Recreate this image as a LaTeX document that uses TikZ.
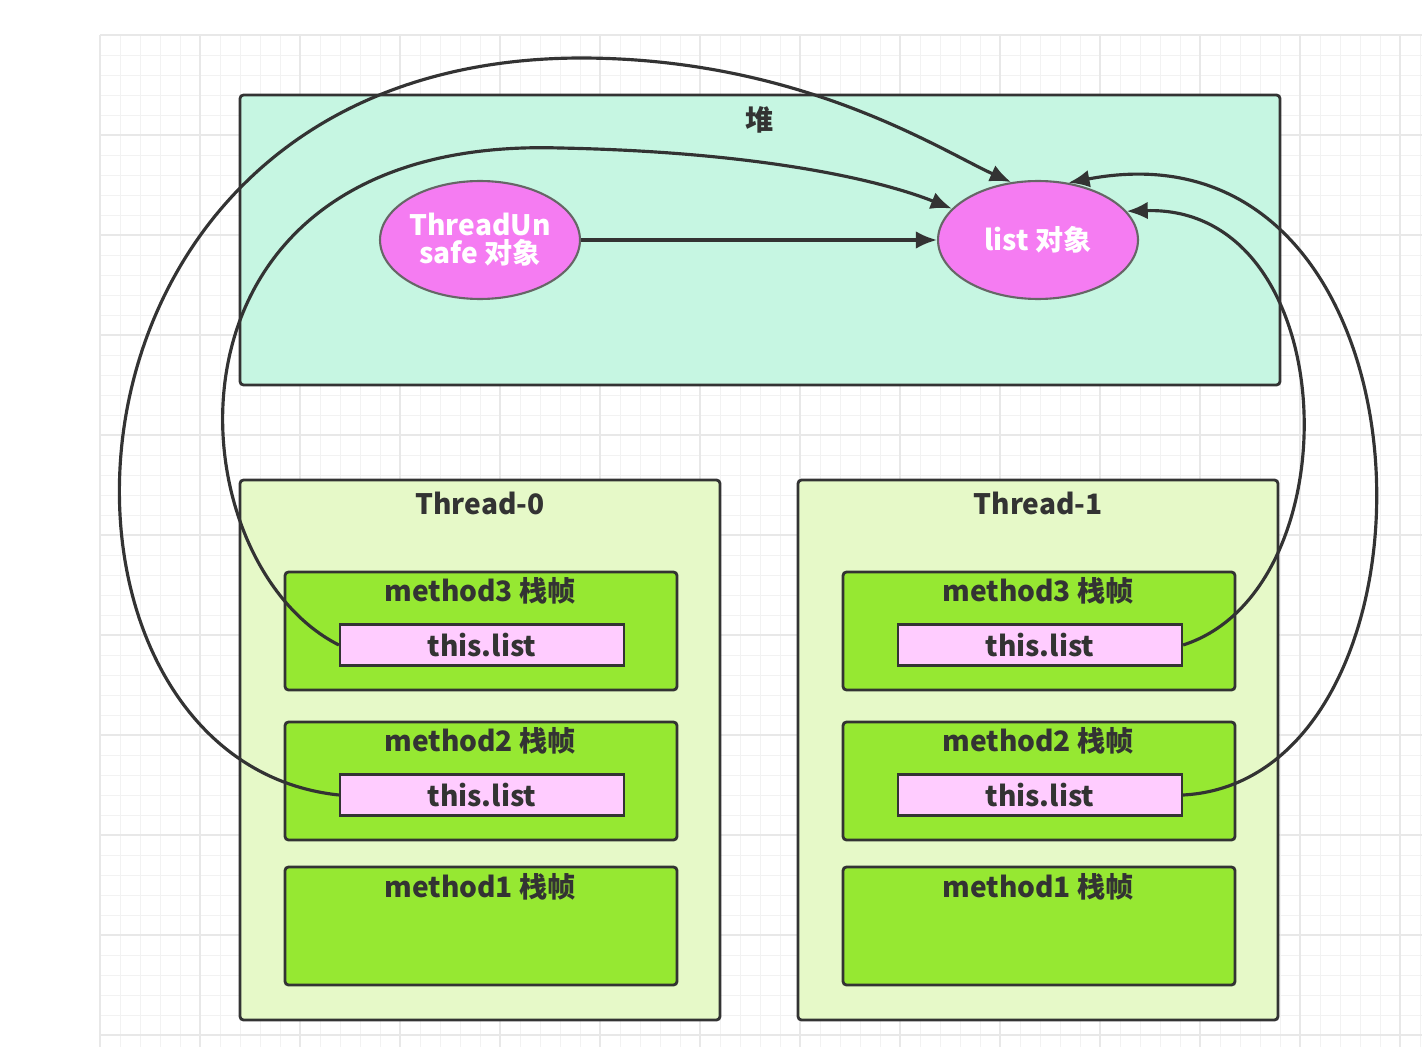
\documentclass[tikz,border=0pt]{standalone}
\usepackage{fontspec}
\setmainfont{Noto Sans CJK SC}
\usetikzlibrary{shapes.geometric,arrows.meta}
\definecolor{heapc}{HTML}{C6F6E2}
\definecolor{threadc}{HTML}{E6F9C8}
\definecolor{framec}{HTML}{96E832}
\definecolor{refc}{HTML}{FFCCFF}
\definecolor{objc}{HTML}{F57CF2}
\definecolor{inkc}{HTML}{333333}
\begin{document}
\begin{tikzpicture}[x=0.02cm,y=-0.02cm,
	font=\bfseries\fontsize{16}{19}\selectfont,text=inkc,
	box/.style={draw=inkc,line width=1.6pt,rounded corners=2pt},
	heap/.style={box,fill=heapc},
	thread/.style={box,fill=threadc},
	frame/.style={box,fill=framec},
	ref/.style={draw=inkc,line width=1.3pt,fill=refc,minimum width=5.68cm,minimum height=0.82cm,inner sep=0pt},
	obj/.style={ellipse,draw=black!60,line width=1.2pt,fill=objc,text=white,minimum width=4cm,minimum height=2.36cm,inner sep=0pt,align=center},
	link/.style={line width=1.8pt,draw=inkc,-{Latex[length=12pt,width=10pt]}}]

  \useasboundingbox (0,0) rectangle (1422,1047);
  % background grid
  \foreach \x in {100,120,...,1420} \draw[black!5,line width=0.5pt] (\x,35) -- (\x,1047);
  \foreach \y in {35,55,...,1045} \draw[black!5,line width=0.5pt] (100,\y) -- (1422,\y);
  \foreach \x in {100,200,...,1400} \draw[black!9,line width=0.7pt] (\x,35) -- (\x,1047);
  \foreach \y in {35,135,...,1035} \draw[black!9,line width=0.7pt] (100,\y) -- (1422,\y);

  % heap
  \draw[heap] (240,95) rectangle (1280,385);
  \node (heapname) at (760,120) {堆};
  \node[obj] (unsafe) at (480,240) {ThreadUn\\[-3pt]safe 对象};
  \node[obj] (list) at (1038,240) {list 对象};

  % threads
  \foreach \t/\dx in {0/0,1/558}{
	  \draw[thread] (240+\dx,480) rectangle (720+\dx,1020);
	  \node (t\t name) at (480+\dx,503) {Thread-\t};
	  \draw[frame] (285+\dx,572) rectangle (677+\dx,690);
	  \node at (480+\dx,591) {method3 栈帧};
	  \node[ref] (t\t m3) at (482+\dx,645) {this.list};
	  \draw[frame] (285+\dx,722) rectangle (677+\dx,840);
	  \node at (480+\dx,741) {method2 栈帧};
	  \node[ref] (t\t m2) at (482+\dx,795) {this.list};
	  \draw[frame] (285+\dx,867) rectangle (677+\dx,985);
	  \node at (480+\dx,887) {method1 栈帧};
  }

  % references
  \draw[link] (unsafe.east) -- (list.west);
  \draw[link] (t0m3.west) .. controls (170,560) and (140,135) .. (560,148) .. controls (760,152) and (880,180) .. (list.160);
  \draw[link] (t0m2.west) .. controls (10,760) and (20,60) .. (580,58) .. controls (800,58) and (940,150) .. (list.115);
  \draw[link] (t1m3.east) .. controls (1355,590) and (1345,205) .. (list.18);
  \draw[link] (t1m2.east) .. controls (1460,780) and (1450,110) .. (list.62);
\end{tikzpicture}
\end{document}
